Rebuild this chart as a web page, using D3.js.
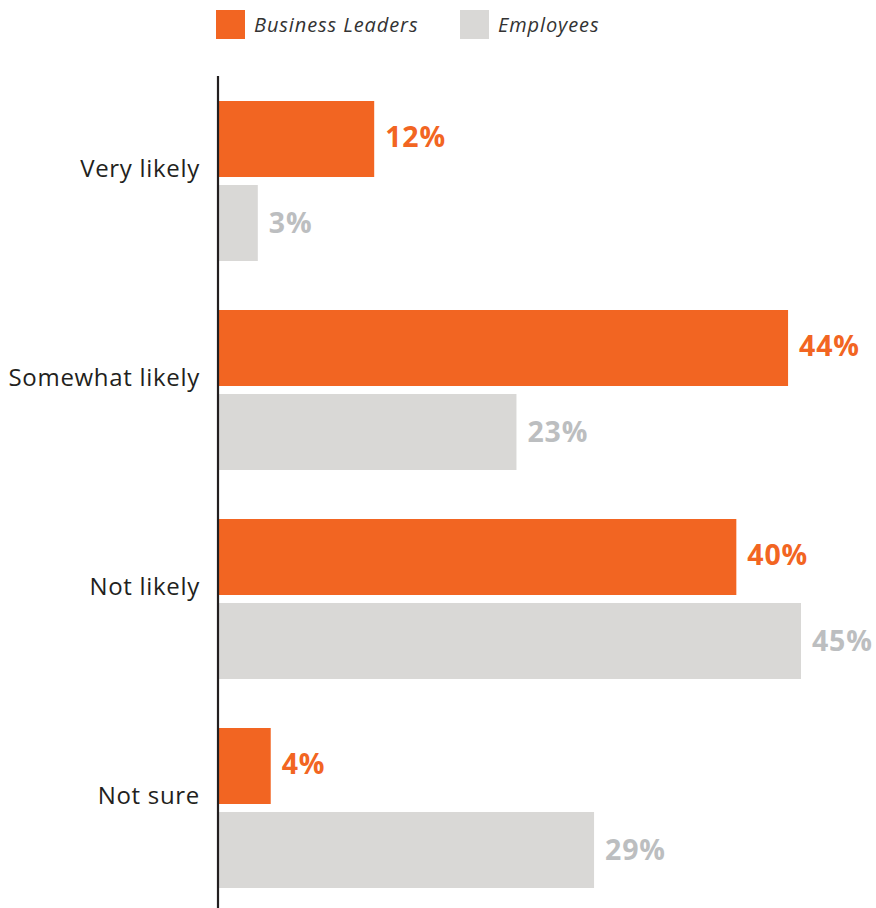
<!DOCTYPE html>
<html>
<head>
<meta charset="utf-8">
<script src="https://cdn.jsdelivr.net/npm/d3@7"></script>
<style>
  html, body { margin: 0; padding: 0; background: #fff; }
  svg { display: block; }
</style>
</head>
<body>
<svg id="chart" width="876" height="908"></svg>
<script>
// Survey responses by likelihood, share of respondents (%)
const categories = ["Very likely", "Somewhat likely", "Not likely", "Not sure"];
const seriesNames = ["Business Leaders", "Employees"];
const businessLeaders = [12, 44, 40, 4];
const employees = [3, 23, 45, 29];

const colors = { "Business Leaders": "#F26522", "Employees": "#D9D8D6" };
const labelColors = { "Business Leaders": "#F26522", "Employees": "#BCBEC0" };

const rows = categories.map((c, i) => ({
  category: c,
  values: [
    { series: "Business Leaders", value: businessLeaders[i] },
    { series: "Employees", value: employees[i] }
  ]
}));

const svg = d3.select("#chart");
const font = "'Open Sans', 'Noto Sans', sans-serif";

const x = d3.scaleLinear().domain([0, 45]).range([219, 801]);
const y0 = d3.scaleBand().domain(categories).range([101, 888]).paddingInner(49 / 209).paddingOuter(0);
const y1 = d3.scaleBand().domain(seriesNames).range([0, y0.bandwidth()]).paddingInner(8 / 84);

// Category groups
const groups = svg.append("g").selectAll("g")
  .data(rows)
  .join("g")
  .attr("transform", d => `translate(0,${y0(d.category)})`);

groups.selectAll("rect")
  .data(d => d.values)
  .join("rect")
  .attr("x", x(0))
  .attr("y", d => y1(d.series))
  .attr("width", d => x(d.value) - x(0))
  .attr("height", y1.bandwidth())
  .attr("fill", d => colors[d.series]);

// Value labels
groups.selectAll("text.value")
  .data(d => d.values)
  .join("text")
  .attr("class", "value")
  .attr("x", d => x(d.value) + 11)
  .attr("y", d => y1(d.series) + y1.bandwidth() / 2 + (d.series === "Employees" ? 10 : 8))
  .attr("font-family", font)
  .attr("font-weight", 700)
  .attr("font-size", 28.5)
  .attr("letter-spacing", 0.8)
  .attr("fill", d => labelColors[d.series])
  .text(d => d.value + "%");

// Category axis
const axis = svg.append("g")
  .attr("transform", `translate(218,0)`)
  .call(d3.axisLeft(y0).tickSize(0).tickPadding(18));
axis.select(".domain").remove();
axis.append("line")
  .attr("x1", 0).attr("x2", 0)
  .attr("y1", 76).attr("y2", 908)
  .attr("stroke", "#231F20")
  .attr("stroke-width", 2.2);
axis.selectAll(".tick text")
  .attr("font-family", font)
  .attr("font-size", 24)
  .attr("letter-spacing", 0.7)
  .attr("fill", "#231F20")
  .attr("dy", "-0.15em");

// Legend
const legendX = [216, 460];
const legend = svg.append("g").selectAll("g")
  .data(seriesNames)
  .join("g")
  .attr("transform", (d, i) => `translate(${legendX[i]},10)`);
legend.append("rect")
  .attr("width", 29).attr("height", 29)
  .attr("fill", d => colors[d]);
legend.append("text")
  .attr("x", 38).attr("y", 22)
  .attr("font-family", font)
  .attr("font-style", "italic")
  .attr("font-size", 20)
  .attr("letter-spacing", 0.9)
  .attr("fill", "#333")
  .text(d => d);
</script>
</body>
</html>
